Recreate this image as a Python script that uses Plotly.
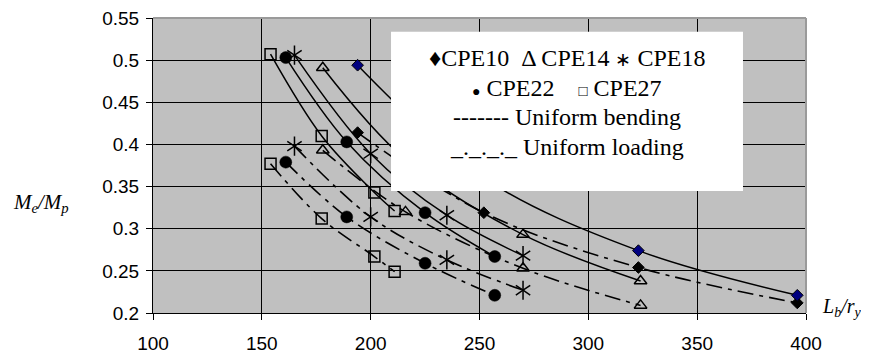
import plotly.graph_objects as go

# ---------------- data ----------------
X_TICKS = [100, 150, 200, 250, 300, 350, 400]
Y_TICKS = [0.2, 0.25, 0.3, 0.35, 0.4, 0.45, 0.5, 0.55]
Y_TICK_TEXT = ["0.2", "0.25", "0.3", "0.35", "0.4", "0.45", "0.5", "0.55"]

X_CPE10 = [194, 252, 323, 396]
BEND_CPE10 = [0.494, 0.360, 0.274, 0.221]
LOAD_CPE10 = [0.414, 0.319, 0.254, 0.212]

X_CPE14 = [178, 216, 270, 324]
BEND_CPE14 = [0.491, 0.382, 0.293, 0.238]
LOAD_CPE14 = [0.393, 0.320, 0.253, 0.209]

X_CPE18 = [165, 200, 235, 270]
BEND_CPE18 = [0.506, 0.389, 0.316, 0.268]
LOAD_CPE18 = [0.398, 0.314, 0.263, 0.227]

X_CPE22 = [161, 189, 225, 257]
BEND_CPE22 = [0.503, 0.403, 0.319, 0.267]
LOAD_CPE22 = [0.379, 0.314, 0.259, 0.221]

X_CPE27 = [154, 177.5, 201.7, 211]
BEND_CPE27 = [0.507, 0.410, 0.343, 0.321]
LOAD_CPE27 = [0.377, 0.312, 0.267, 0.249]

LEGEND_LINES = [
    "\u2666CPE10\u00a0\u00a0\u0394 CPE14 <span style=\"font-size:19px\">\u2217</span> CPE18",
    "<span style=\"font-size:14px\">\u25cf</span> CPE22\u00a0\u00a0\u00a0\u00a0<span style=\"font-size:15px\">\u25a1</span> CPE27",
    "------- Uniform bending",
    "_._._._ Uniform loading",
]

# ---------------- styles ----------------
SERIF = "Liberation Serif"
SOLID = dict(color="black", width=1.5, shape="spline")
DASHDOT = dict(color="black", width=1.6, shape="spline", dash="16px,6px,4px,6px")

fig = go.Figure()


def add_series(x, y, line, symbol, size, fill, lw=1.5, second_symbol=None):
    fig.add_trace(go.Scatter(
        x=x, y=y, mode="lines+markers", line=line,
        marker=dict(symbol=symbol, size=size, color=fill,
                    line=dict(color="black", width=lw)),
        hoverinfo="skip"))
    if second_symbol:
        fig.add_trace(go.Scatter(
            x=x, y=y, mode="markers",
            marker=dict(symbol=second_symbol, size=size, color=fill,
                        line=dict(color="black", width=lw)),
            hoverinfo="skip"))


# uniform loading (dash-dot)
add_series(X_CPE27, LOAD_CPE27, DASHDOT, "square-open", 11, "black")
add_series(X_CPE22, LOAD_CPE22, DASHDOT, "circle", 12, "black", lw=0.5)
add_series(X_CPE18, LOAD_CPE18, DASHDOT, "y-up-open", 12, "black", second_symbol="y-down-open")
add_series(X_CPE14, LOAD_CPE14, DASHDOT, "triangle-up-open", 11, "black")
add_series(X_CPE10, LOAD_CPE10, DASHDOT, "diamond", 9, "black", lw=1)
# uniform bending (solid)
add_series(X_CPE27, BEND_CPE27, SOLID, "square-open", 11, "black")
add_series(X_CPE22, BEND_CPE22, SOLID, "circle", 12, "black", lw=0.5)
add_series(X_CPE18, BEND_CPE18, SOLID, "y-up-open", 12, "black", second_symbol="y-down-open")
add_series(X_CPE14, BEND_CPE14, SOLID, "triangle-up-open", 11, "black")
add_series(X_CPE10, BEND_CPE10, SOLID, "diamond", 9, "#000080", lw=1)

axis_common = dict(
    showgrid=True, gridcolor="black", gridwidth=1,
    showline=True, linecolor="black", linewidth=1,
    ticks="outside", ticklen=6, tickcolor="black", tickwidth=1,
    tickfont=dict(family="Liberation Sans, Arial, sans-serif", size=19, color="black"),
    zeroline=False, automargin=False, ticklabeloverflow="allow",
)

# the page body has an 8px default margin, so the figure is sized to fill the
# remaining part of the 869x354 window
fig.update_layout(
    width=861, height=346,
    margin=dict(l=145, r=63, t=10, b=41, autoexpand=False),
    paper_bgcolor="white", plot_bgcolor="#c0c0c0",
    showlegend=False,
    xaxis=dict(range=[X_TICKS[0], X_TICKS[-1]], tickvals=X_TICKS,
               ticktext=[str(v) for v in X_TICKS], ticklabelstandoff=7, **axis_common),
    yaxis=dict(range=[Y_TICKS[0], Y_TICKS[-1]], tickvals=Y_TICKS,
               ticktext=Y_TICK_TEXT, ticklabelstandoff=3, **axis_common),
)

# grey top / right border of the plot area
fig.add_shape(type="line", xref="paper", yref="paper", x0=0, x1=1, y0=1, y1=1,
              line=dict(color="#9a9a9a", width=2), layer="above")
fig.add_shape(type="line", xref="paper", yref="paper", x0=1, x1=1, y0=0, y1=1,
              line=dict(color="#9a9a9a", width=2), layer="above")

# white legend box
fig.add_shape(type="rect", xref="paper", yref="paper",
              x0=0.3645, x1=0.9035, y0=0.4134, y1=0.9535,
              fillcolor="white", line=dict(width=0), layer="above")

legend_y = [0.866, 0.764, 0.663, 0.564]
for txt, yy in zip(LEGEND_LINES, legend_y):
    fig.add_annotation(text=txt, xref="paper", yref="paper", x=0.634, y=yy,
                       xanchor="center", yanchor="middle", showarrow=False,
                       font=dict(family=SERIF, size=24, color="black"))

# axis titles
fig.add_annotation(text="<i>M<sub>e</sub>/M<sub>p</sub></i>", xref="paper", yref="paper",
                   x=-0.172, y=0.372, xanchor="center", yanchor="middle", showarrow=False,
                   font=dict(family=SERIF, size=21, color="black"))
fig.add_annotation(text="<i>L<sub>b</sub>/r<sub>y</sub></i>", xref="paper", yref="paper",
                   x=1.021, y=0.02, xanchor="left", yanchor="middle", showarrow=False,
                   font=dict(family=SERIF, size=20, color="black"))

fig.write_html("out.html")
